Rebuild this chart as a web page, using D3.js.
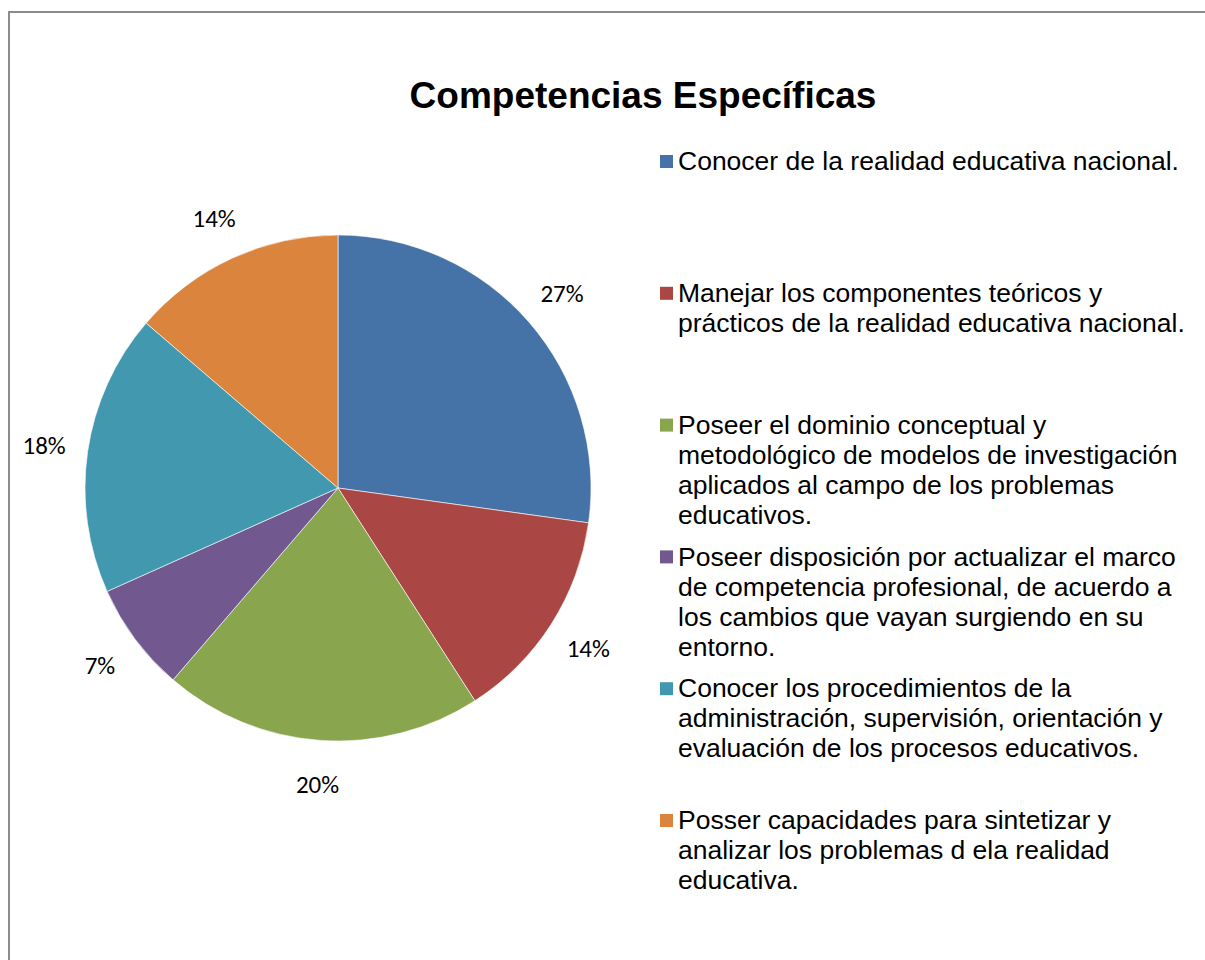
<!DOCTYPE html>
<html>
<head>
<meta charset="utf-8">
<script src="https://cdn.jsdelivr.net/npm/d3@7"></script>
<style>
  html, body { margin: 0; padding: 0; background: #fff; }
  svg { display: block; }
</style>
</head>
<body>
<div id="chart"></div>
<script>
// values (share of each competence, in %)
var categories = [
  "Conocer de la realidad educativa nacional.",
  "Manejar los componentes teóricos y prácticos de la realidad educativa nacional.",
  "Poseer el dominio conceptual y metodológico de modelos de investigación aplicados al campo de los problemas educativos.",
  "Poseer disposición por actualizar el marco de competencia profesional, de acuerdo a los cambios que vayan surgiendo en su entorno.",
  "Conocer los procedimientos de la administración, supervisión, orientación y evaluación de los procesos educativos.",
  "Posser capacidades para sintetizar y analizar los problemas d ela realidad educativa."
];
// legend lines as wrapped in the original
var legendLines = [
  ["Conocer de la realidad educativa nacional."],
  ["Manejar los componentes teóricos y", "prácticos de la realidad educativa nacional."],
  ["Poseer el dominio conceptual y", "metodológico de modelos de investigación", "aplicados al campo de los problemas", "educativos."],
  ["Poseer disposición por actualizar el marco", "de competencia profesional, de acuerdo a", "los cambios que vayan surgiendo en su", "entorno."],
  ["Conocer los procedimientos de la", "administración, supervisión, orientación y", "evaluación de los procesos educativos."],
  ["Posser capacidades para sintetizar y", "analizar los problemas d ela realidad", "educativa."]
];
var values = [27.2, 13.7, 20.4, 7.0, 18.0, 13.7];
var colors = ["#4572A7", "#AA4643", "#89A54E", "#71588F", "#4198AF", "#DB843D"];

var width = 1205,
    height = 960;

var svg = d3.select("#chart").append("svg")
    .attr("width", width)
    .attr("height", height);

// chart frame
svg.append("path")
    .attr("d", "M9," + height + "V12H" + width)
    .attr("fill", "none")
    .attr("stroke", "#8c8c8c")
    .attr("stroke-width", 2);

svg.append("text")
    .attr("x", 643)
    .attr("y", 108)
    .attr("text-anchor", "middle")
    .style("font-family", "'Liberation Sans', Arial, sans-serif")
    .style("font-weight", "bold")
    .style("font-size", "37px")
    .text("Competencias Específicas");

var cx = 338, cy = 488, radius = 253;

var data = categories.map(function (c, i) {
  return { name: c, value: values[i], color: colors[i] };
});

var pie = d3.pie()
    .sort(null)
    .value(function (d) { return d.value; });

var arc = d3.arc()
    .innerRadius(0)
    .outerRadius(radius);

var labelArc = d3.arc()
    .innerRadius(radius + 44)
    .outerRadius(radius + 44);

var total = d3.sum(values);

var g = svg.append("g")
    .attr("transform", "translate(" + cx + "," + cy + ")");

var slices = g.selectAll("path.slice")
    .data(pie(data))
    .enter();

slices.append("path")
    .attr("class", "slice")
    .attr("d", arc)
    .attr("fill", function (d) { return d.data.color; })
    .attr("stroke", "#ffffff")
    .attr("stroke-opacity", 0.6)
    .attr("stroke-width", 1);

slices.append("text")
    .attr("transform", function (d) { return "translate(" + labelArc.centroid(d) + ")"; })
    .attr("text-anchor", "middle")
    .attr("dy", "0.35em")
    .style("font-family", "Carlito, Calibri, 'Open Sans', sans-serif")
    .style("font-size", "25px")
    .attr("fill", "#000")
    .text(function (d) { return Math.round(d.data.value / total * 100) + "%"; });

// legend
var legendY = d3.scaleLinear()
    .domain([0, categories.length - 1])
    .range([161, 820]);

var legend = svg.selectAll("g.legend")
    .data(data)
    .enter().append("g")
    .attr("class", "legend")
    .attr("transform", function (d, i) { return "translate(660," + legendY(i) + ")"; });

legend.append("rect")
    .attr("x", 0)
    .attr("y", -6)
    .attr("width", 13)
    .attr("height", 13)
    .attr("fill", function (d) { return d.color; });

legend.append("text")
    .style("font-family", "'Liberation Sans', Arial, sans-serif")
    .style("font-size", "26.5px")
    .attr("fill", "#000")
    .selectAll("tspan")
    .data(function (d, i) { return legendLines[i]; })
    .enter().append("tspan")
    .attr("x", 18)
    .attr("y", function (d, j) { return j * 30; })
    .attr("dy", "0.35em")
    .text(function (d) { return d; });
</script>
</body>
</html>
